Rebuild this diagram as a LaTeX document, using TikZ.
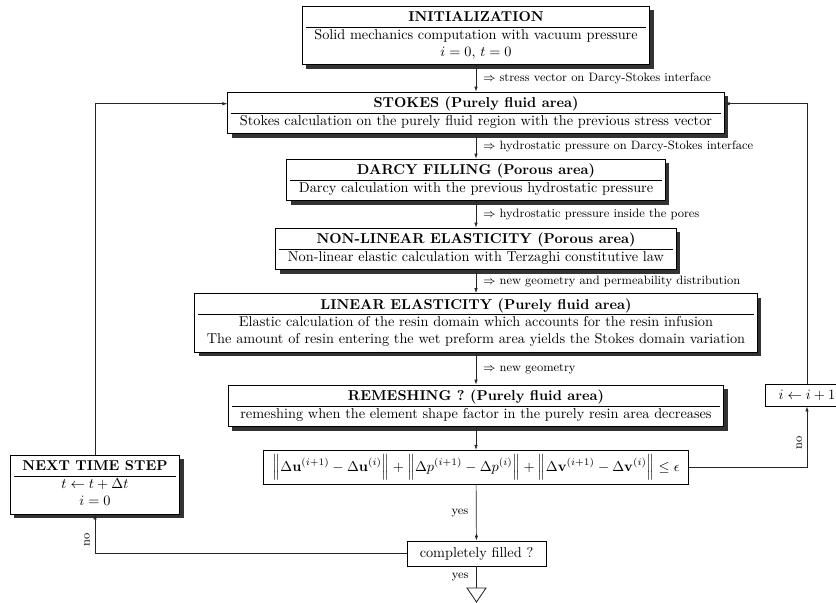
\documentclass[tikz,border=0pt]{standalone}
\usetikzlibrary{arrows.meta,shadows,calc}
\begin{document}
\begin{tikzpicture}[x=0.70pt,y=-0.70pt,
  box/.style={draw=black, line width=0.6pt, fill=white, inner xsep=2.5pt, inner ysep=2.4pt,
    drop shadow={shadow xshift=2.8pt,shadow yshift=-2.8pt,fill=black!80,opacity=1}},
  plainbox/.style={draw=black, line width=0.6pt, fill=white},
  conn/.style={line width=0.5pt, draw=black!85},
  arr/.style={conn, -{Latex[length=3.5pt,width=2.4pt]}},
  lab/.style={font=\fontsize{8.5}{10}\selectfont, right, xshift=1.5pt},
  nolab/.style={font=\fontsize{8.5}{10}\selectfont, rotate=90},
  yeslab/.style={font=\fontsize{8.5}{10}\selectfont, left, xshift=-2pt}
]
\useasboundingbox (0,0) rectangle (836,603);

\node[box] (init) at (476,35.5) {\begin{tabular}{c}\textbf{INITIALIZATION}\\\hline Solid mechanics computation with vacuum pressure\\ $i=0$, $t=0$\end{tabular}};
\node[box] (stokes) at (476,113) {\begin{tabular}{c}\textbf{STOKES (Purely fluid area)}\\\hline Stokes calculation on the purely fluid region with the previous stress vector\end{tabular}};
\node[box] (darcy) at (476,180) {\begin{tabular}{c}\textbf{DARCY FILLING (Porous area)}\\\hline Darcy calculation with the previous hydrostatic pressure\end{tabular}};
\node[box] (nonlin) at (476,249) {\begin{tabular}{c}\textbf{NON-LINEAR ELASTICITY (Porous area)}\\\hline Non-linear elastic calculation with Terzaghi constitutive law\end{tabular}};
\node[box] (lin) at (476,323) {\begin{tabular}{c}\textbf{LINEAR ELASTICITY (Purely fluid area)}\\\hline Elastic calculation of the resin domain which accounts for the resin infusion\\ The amount of resin entering the wet preform area yields the Stokes domain variation\end{tabular}};
\node[box] (remesh) at (476,406) {\begin{tabular}{c}\textbf{REMESHING ? (Purely fluid area)}\\\hline remeshing when the element shape factor in the purely resin area decreases\end{tabular}};
\node[plainbox, inner xsep=6pt, inner ysep=3pt] (crit) at (476,467.5) {$\Big\|\Delta\mathbf{u}^{(i+1)}-\Delta\mathbf{u}^{(i)}\Big\|+\Big\|\Delta p^{(i+1)}-\Delta p^{(i)}\Big\|+\Big\|\Delta\mathbf{v}^{(i+1)}-\Delta\mathbf{v}^{(i)}\Big\|\le\epsilon$};
\node[plainbox, minimum width=97.3pt, minimum height=17.5pt] (filled) at (476.5,553.5) {completely filled ?};
\node[box] (next) at (95,484.5) {\begin{tabular}{c}\textbf{NEXT TIME STEP}\\\hline $t\leftarrow t+\Delta t$\\ $i=0$\end{tabular}};
\node[plainbox, minimum width=58.8pt, minimum height=15.4pt] (inc) at (807,395) {$i\leftarrow i+1$};
\coordinate (endtop) at (476.5,588);

\draw[arr] (init) -- node[lab] {$\Rightarrow$ stress vector on Darcy-Stokes interface} (stokes);
\draw[arr] (stokes) -- node[lab] {$\Rightarrow$ hydrostatic pressure on Darcy-Stokes interface} (darcy);
\draw[arr] (darcy) -- node[lab] {$\Rightarrow$ hydrostatic pressure inside the pores} (nonlin);
\draw[arr] (nonlin) -- node[lab] {$\Rightarrow$ new geometry and permeability distribution} (lin);
\draw[arr] (lin) -- node[lab] {$\Rightarrow$ new geometry} (remesh);
\draw[arr] (remesh) -- (crit);
\draw[arr] (crit) -- node[yeslab] {yes} (filled);
\draw[conn] (filled) -- node[yeslab] {yes} (endtop);
\draw[conn, line width=0.6pt] (endtop) ++(-9.5,0) -- ++(19,0) -- ++(-9.5,14) -- cycle;

\draw[arr] (crit.east) -| node[pos=0.7, nolab, above] {no} (inc.south);
\draw[arr] (inc.north) |- ($(stokes.north east)+(0,12)$);
\draw[arr] (filled.west) -| node[pos=0.67, nolab, above] {no} (next.south);
\draw[arr] (next.north) |- ($(stokes.north west)+(0,12)$);
\end{tikzpicture}
\end{document}
